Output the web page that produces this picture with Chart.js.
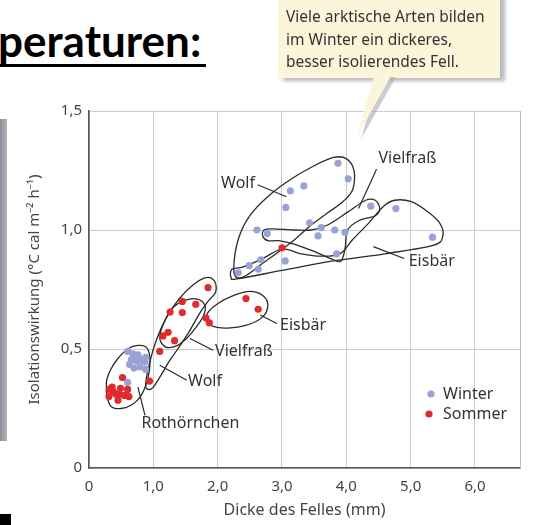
<!DOCTYPE html>
<html lang="de">
<head>
<meta charset="utf-8">
<title>Isolationswirkung und Dicke des Felles</title>
<script src="https://cdn.jsdelivr.net/npm/chart.js@4.4.1/dist/chart.umd.min.js"></script>
<style>
  html, body { margin: 0; padding: 0; background: #fff; }
  body { width: 535px; height: 525px; position: relative; overflow: hidden; font-family: "Noto Sans", sans-serif; }
  #chartBox { position: absolute; left: 0; top: 0; width: 535px; height: 525px; }
  .heading { position: absolute; left: -2px; top: 18px; font: bold 44px/1 Lato, sans-serif; color: #000; white-space: nowrap; }
  .heading-line { position: absolute; left: 0; top: 64px; width: 206px; height: 3px; background: #000; }
  .side-bar { position: absolute; left: 0; top: 119px; width: 7px; height: 322px; background: linear-gradient(90deg, #8d8d95, #b4b4bc); }
  .corner { position: absolute; left: 0; top: 514px; width: 11px; height: 11px; background: #000; }
  .note { position: absolute; left: 278px; top: -8px; width: 222px; height: 86px; background: #fbf5da; box-shadow: 5px 3px 4px rgba(95, 95, 110, 0.45); z-index: 2; }
  .note p { margin: 0; position: absolute; left: 8px; top: 13px; font-size: 15.5px; line-height: 22.5px; color: #333; white-space: nowrap; }
  .note-tip { position: absolute; left: 0; top: 0; z-index: 3; }
</style>
</head>
<body>
<div class="heading">peraturen:</div>
<div class="heading-line"></div>
<div class="side-bar"></div>
<div class="corner"></div>
<div class="note"><p>Viele arktische Arten bilden<br>im Winter ein dickeres,<br>besser isolierendes Fell.</p></div>
<svg class="note-tip" width="535" height="150">
  <polygon points="379,77 396,77 361,139" fill="#a9a9b2" opacity="0.6"></polygon>
  <polygon points="374,76 391,76 357,137" fill="#fbf5da"></polygon>
</svg>
<div id="chartBox"><canvas id="chart"></canvas></div>

<script>
// Felldicke (mm) und Isolationswirkung
const winterFell = [0.60, 0.68, 0.76, 0.88, 0.66, 0.74, 0.87, 0.63, 0.70, 0.79, 0.88, 0.72, 0.82, 0.60,
  2.32, 2.49, 2.63, 2.67, 2.61, 2.77, 3.05, 3.06, 3.13, 3.34, 3.43, 3.56, 3.61, 3.82, 3.98, 3.85, 3.87, 4.03, 4.38, 4.77, 5.34];
const winterIso = [0.49, 0.48, 0.475, 0.465, 0.455, 0.45, 0.445, 0.435, 0.42, 0.425, 0.415, 0.465, 0.455, 0.36,
  0.82, 0.85, 0.835, 0.875, 1.0, 0.985, 0.87, 1.095, 1.165, 1.185, 1.03, 0.975, 1.01, 1.0, 0.99, 0.9, 1.28, 1.215, 1.1, 1.09, 0.97];

const sommerFell = [0.31, 0.36, 0.42, 0.45, 0.49, 0.52, 0.55, 0.60, 0.62, 0.38, 0.47, 0.32,
  0.94, 1.10, 1.15, 1.23, 1.33, 1.26, 1.45, 1.45, 1.66, 1.85, 1.82, 1.87, 2.44, 2.63, 3.00];
const sommerIso = [0.30, 0.34, 0.31, 0.285, 0.335, 0.38, 0.305, 0.33, 0.30, 0.32, 0.31, 0.33,
  0.365, 0.49, 0.555, 0.57, 0.535, 0.655, 0.70, 0.653, 0.688, 0.758, 0.63, 0.61, 0.712, 0.667, 0.925];

const seriesNames = ['Winter', 'Sommer'];
const xTicks = [0, 1, 2, 3, 4, 5, 6];
const yTicks = [0, 0.5, 1.0, 1.5];

// Umrisse der Artengruppen (Datenkoordinaten)
const rothoernchenOutline = [[0.27, 0.36], [0.29, 0.29], [0.36, 0.255], [0.5, 0.25], [0.66, 0.265], [0.8, 0.3],
  [0.91, 0.37], [0.95, 0.45], [0.9, 0.505], [0.76, 0.515], [0.6, 0.5], [0.45, 0.46], [0.33, 0.41]];
const wolfSommerOutline = [[0.88, 0.35], [0.94, 0.44], [1.05, 0.54], [1.2, 0.63], [1.4, 0.71], [1.62, 0.77],
  [1.82, 0.80], [1.95, 0.785], [1.97, 0.74], [1.85, 0.70], [1.72, 0.65], [1.55, 0.57], [1.38, 0.5],
  [1.25, 0.45], [1.12, 0.39], [1.0, 0.34], [0.92, 0.33]];
const vielfrassSommerOutline = [[1.1, 0.55], [1.18, 0.62], [1.31, 0.675], [1.5, 0.705], [1.68, 0.71], [1.8, 0.685],
  [1.78, 0.64], [1.66, 0.59], [1.5, 0.54], [1.33, 0.51], [1.18, 0.51]];
const eisbaerSommerOutline = [[1.84, 0.65], [2.0, 0.69], [2.25, 0.725], [2.5, 0.742], [2.7, 0.725], [2.78, 0.685],
  [2.7, 0.635], [2.45, 0.6], [2.15, 0.588], [1.93, 0.595], [1.83, 0.62]];
const wolfWinterOutline = [[2.25, 0.84], [2.32, 0.96], [2.5, 1.06], [2.8, 1.145], [3.15, 1.215], [3.5, 1.27],
  [3.8, 1.305], [4.0, 1.3], [4.12, 1.25], [4.1, 1.17], [3.95, 1.12], [3.7, 1.07], [3.45, 1.02], [3.2, 0.96],
  [2.98, 0.915], [2.7, 0.86], [2.45, 0.81], [2.3, 0.8]];
const vielfrassWinterOutline = [[2.72, 1.0], [2.85, 1.005], [3.2, 1.0], [3.45, 1.0], [3.7, 1.02], [4.02, 1.075],
  [4.3, 1.125], [4.45, 1.125], [4.52, 1.09], [4.45, 1.06], [4.2, 1.04], [4.02, 1.0], [3.98, 0.92], [3.92, 0.87],
  [3.8, 0.875], [3.5, 0.91], [3.2, 0.94], [2.95, 0.955], [2.78, 0.955], [2.7, 0.975]];
const eisbaerWinterOutline = [[2.21, 0.80], [2.3, 0.795], [3.0, 0.83], [3.8, 0.87], [4.6, 0.9], [5.35, 0.935],
  [5.5, 0.975], [5.45, 1.03], [5.25, 1.08], [5.0, 1.12], [4.75, 1.125], [4.58, 1.1], [4.35, 1.03], [4.1, 0.96],
  [3.9, 0.9], [3.6, 0.89], [3.3, 0.9], [3.0, 0.92], [2.7, 0.88], [2.4, 0.845], [2.22, 0.835]];

const outlines = [rothoernchenOutline, wolfSommerOutline, vielfrassSommerOutline, eisbaerSommerOutline,
  wolfWinterOutline, vielfrassWinterOutline, eisbaerWinterOutline];

// Beschriftungen: Text, Textanker, Hinweislinie von/bis
const speciesLabels = [
  {text: 'Wolf', at: [2.58, 1.195], align: 'right', from: [2.62, 1.19], to: [3.07, 1.14]},
  {text: 'Vielfraß', at: [4.5, 1.30], align: 'left', from: [4.47, 1.255], to: [4.19, 1.09]},
  {text: 'Eisbär', at: [4.97, 0.867], align: 'left', from: [4.9, 0.88], to: [4.42, 0.93]},
  {text: 'Eisbär', at: [2.97, 0.60], align: 'left', from: [2.92, 0.607], to: [2.66, 0.643]},
  {text: 'Vielfraß', at: [1.96, 0.488], align: 'left', from: [1.93, 0.495], to: [1.57, 0.544]},
  {text: 'Wolf', at: [1.54, 0.362], align: 'left', from: [1.52, 0.369], to: [1.10, 0.432]},
  {text: 'Rothörnchen', at: [0.815, 0.186], align: 'left', from: [0.87, 0.221], to: [0.76, 0.34]}
];

function toPoints(xs, ys) {
  return xs.map((x, i) => ({x: x, y: ys[i]}));
}

function formatTick(value) {
  if (value === 0) return '0';
  return value.toFixed(1).replace('.', ',');
}

function closedCurve(ctx, pts) {
  const n = pts.length;
  ctx.beginPath();
  ctx.moveTo(pts[0].x, pts[0].y);
  for (let i = 0; i < n; i++) {
    const p0 = pts[(i - 1 + n) % n], p1 = pts[i], p2 = pts[(i + 1) % n], p3 = pts[(i + 2) % n];
    ctx.bezierCurveTo(
      p1.x + (p2.x - p0.x) / 6, p1.y + (p2.y - p0.y) / 6,
      p2.x - (p3.x - p1.x) / 6, p2.y - (p3.y - p1.y) / 6,
      p2.x, p2.y);
  }
  ctx.closePath();
  ctx.stroke();
}

const outlinePlugin = {
  id: 'outlines',
  beforeDatasetsDraw(chart) {
    const {ctx, scales: {x, y}} = chart;
    ctx.save();
    ctx.strokeStyle = '#2b2b2b';
    ctx.lineWidth = 1.3;
    outlines.forEach(shape => {
      const pts = shape.map(p => ({x: x.getPixelForValue(p[0]), y: y.getPixelForValue(p[1])}));
      closedCurve(ctx, pts);
    });
    ctx.restore();
  }
};

const framePlugin = {
  id: 'frame',
  beforeDatasetsDraw(chart) {
    const {ctx, chartArea} = chart;
    ctx.save();
    ctx.strokeStyle = '#bdbdbd';
    ctx.lineWidth = 1;
    ctx.beginPath();
    ctx.moveTo(chartArea.right + 0.5, chartArea.top);
    ctx.lineTo(chartArea.right + 0.5, chartArea.bottom);
    ctx.stroke();
    ctx.restore();
  }
};

const labelPlugin = {
  id: 'speciesLabels',
  afterDatasetsDraw(chart) {
    const {ctx, scales: {x, y}} = chart;
    ctx.save();
    ctx.font = '16px "Noto Sans"';
    ctx.fillStyle = '#333';
    ctx.strokeStyle = '#2b2b2b';
    ctx.lineWidth = 1.2;
    ctx.textBaseline = 'middle';
    speciesLabels.forEach(item => {
      ctx.beginPath();
      ctx.moveTo(x.getPixelForValue(item.from[0]), y.getPixelForValue(item.from[1]));
      ctx.lineTo(x.getPixelForValue(item.to[0]), y.getPixelForValue(item.to[1]));
      ctx.stroke();
      ctx.textAlign = item.align;
      ctx.fillText(item.text, x.getPixelForValue(item.at[0]), y.getPixelForValue(item.at[1]));
    });
    ctx.restore();
  }
};

const legendPlugin = {
  id: 'cornerLegend',
  afterDraw(chart) {
    const {ctx, chartArea} = chart;
    ctx.save();
    ctx.font = '16px "Noto Sans"';
    ctx.textBaseline = 'middle';
    ctx.textAlign = 'left';
    chart.data.datasets.forEach((ds, i) => {
      const cy = chartArea.bottom - 74 + i * 20;
      ctx.fillStyle = ds.backgroundColor;
      ctx.beginPath();
      ctx.arc(chartArea.right - 89 - i * 2, cy, 3.6, 0, Math.PI * 2);
      ctx.fill();
      ctx.fillStyle = '#333';
      ctx.fillText(ds.label, chartArea.right - 77, cy);
    });
    ctx.restore();
  }
};

const ctx = document.getElementById('chart').getContext('2d');
const chart = new Chart(ctx, {
  type: 'scatter',
  data: {
    datasets: [{
      label: seriesNames[0],
      data: toPoints(winterFell, winterIso),
      backgroundColor: '#98a2d6',
      pointRadius: 3.6,
      pointBorderWidth: 0,
      order: 2
    }, {
      label: seriesNames[1],
      data: toPoints(sommerFell, sommerIso),
      backgroundColor: '#e02a2b',
      pointRadius: 3.6,
      pointBorderWidth: 0,
      order: 1
    }]
  },
  options: {
    responsive: true,
    maintainAspectRatio: false,
    animation: false,
    layout: {
      padding: {left: 0, right: 15, top: 111, bottom: 0}
    },
    scales: {
      x: {
        type: 'linear',
        min: 0,
        max: 6.7,
        afterFit: scale => { scale.height = 57; },
        afterBuildTicks: scale => { scale.ticks = xTicks.map(v => ({value: v})); },
        ticks: {
          callback: formatTick,
          color: '#444',
          font: {family: 'Noto Sans', size: 15},
          padding: 10,
          maxRotation: 0
        },
        grid: {color: '#cdcdcd', lineWidth: 1, drawTicks: false},
        border: {color: '#555', width: 1.6},
        title: {
          display: true,
          text: 'Dicke des Felles (mm)',
          color: '#444',
          font: {family: 'Noto Sans', size: 16},
          padding: {top: 0, bottom: 5}
        }
      },
      y: {
        type: 'linear',
        min: 0,
        max: 1.5,
        afterFit: scale => { scale.width = 89; },
        afterBuildTicks: scale => { scale.ticks = yTicks.map(v => ({value: v})); },
        ticks: {
          callback: formatTick,
          color: '#444',
          font: {family: 'Noto Sans', size: 15},
          padding: 7
        },
        grid: {color: '#cdcdcd', lineWidth: 1, drawTicks: false},
        border: {color: '#555', width: 1.6},
        title: {
          display: true,
          text: 'Isolationswirkung (°C cal m⁻² h⁻¹)',
          color: '#444',
          font: {family: 'Noto Sans', size: 15},
          padding: {top: 26, bottom: 0}
        }
      }
    },
    plugins: {
      legend: {display: false},
      tooltip: {enabled: false}
    }
  },
  plugins: [framePlugin, outlinePlugin, labelPlugin, legendPlugin]
});
</script>
</body>
</html>
